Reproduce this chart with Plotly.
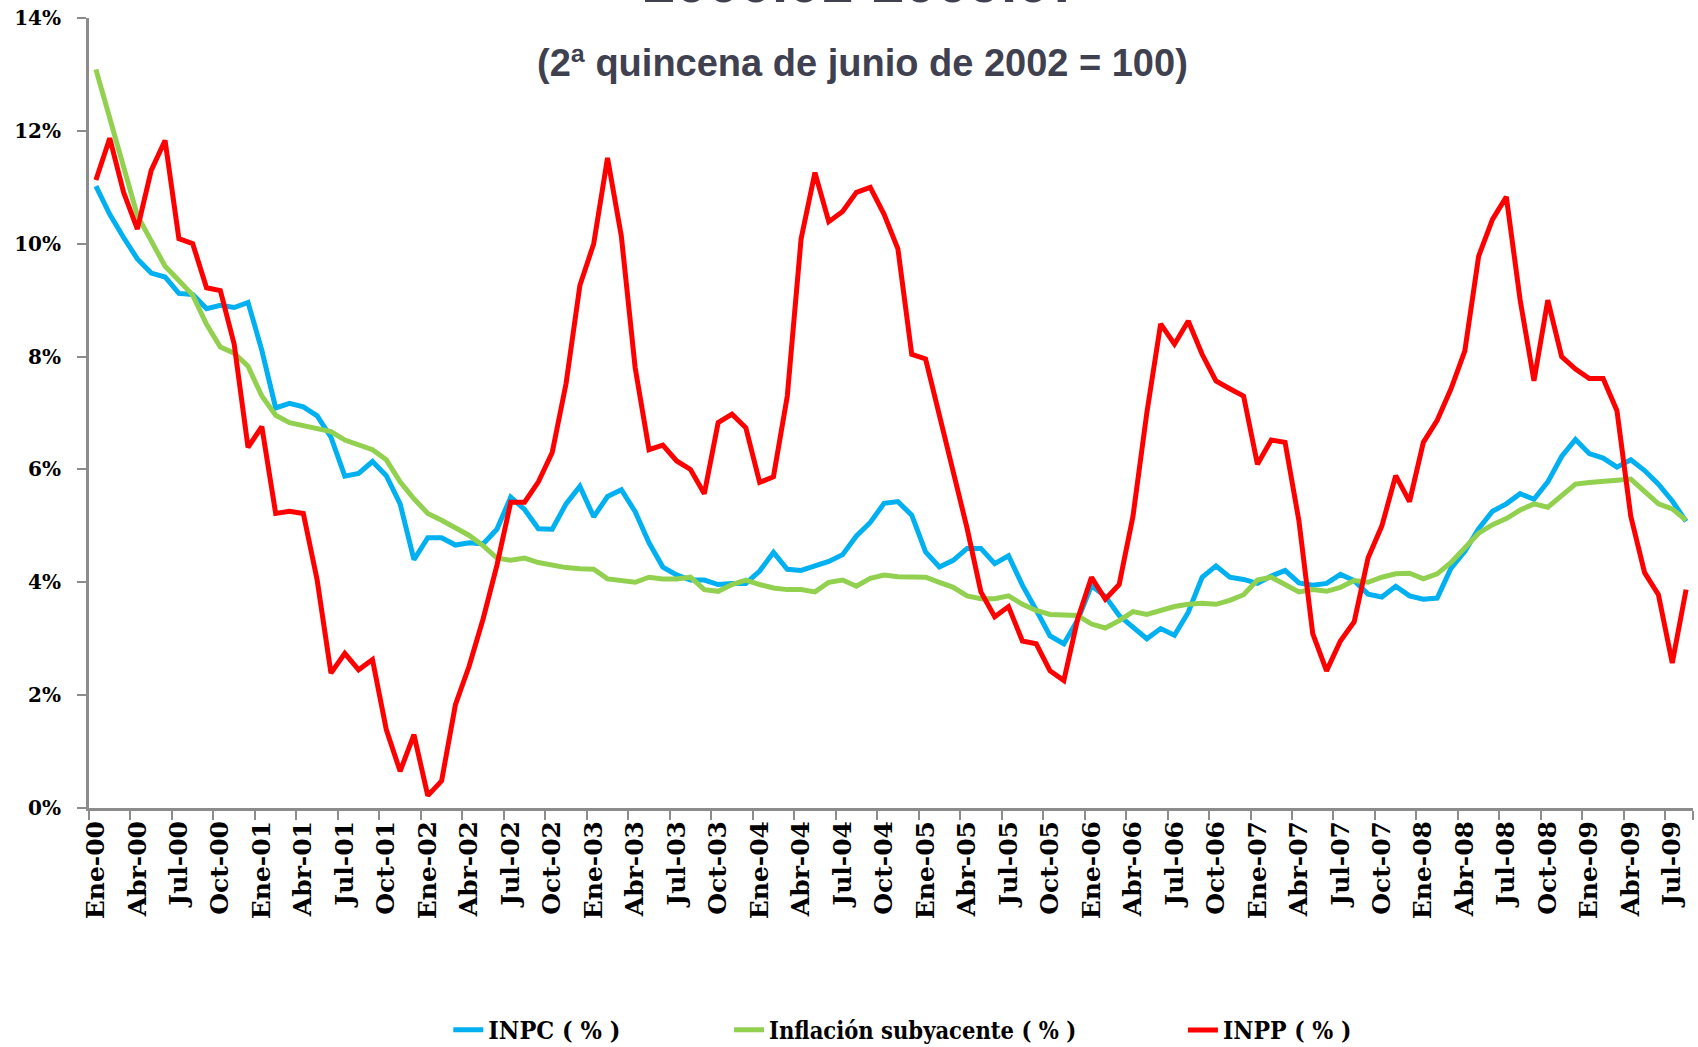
import plotly.graph_objects as go

tick_labels = ["Ene-00", "Abr-00", "Jul-00", "Oct-00", "Ene-01", "Abr-01", "Jul-01", "Oct-01",
               "Ene-02", "Abr-02", "Jul-02", "Oct-02", "Ene-03", "Abr-03", "Jul-03", "Oct-03",
               "Ene-04", "Abr-04", "Jul-04", "Oct-04", "Ene-05", "Abr-05", "Jul-05", "Oct-05",
               "Ene-06", "Abr-06", "Jul-06", "Oct-06", "Ene-07", "Abr-07", "Jul-07", "Oct-07",
               "Ene-08", "Abr-08", "Jul-08", "Oct-08", "Ene-09", "Abr-09", "Jul-09"]

inpc = [11.02, 10.52, 10.11, 9.73, 9.48, 9.41, 9.12, 9.10, 8.85, 8.91, 8.87, 8.96,
        8.11, 7.09, 7.17, 7.11, 6.95, 6.57, 5.88, 5.93, 6.14, 5.89, 5.39, 4.40,
        4.79, 4.79, 4.66, 4.70, 4.68, 4.94, 5.51, 5.29, 4.95, 4.94, 5.39, 5.70,
        5.16, 5.52, 5.64, 5.25, 4.70, 4.27, 4.13, 4.04, 4.04, 3.96, 3.98, 3.98,
        4.20, 4.53, 4.23, 4.21, 4.29, 4.37, 4.49, 4.82, 5.06, 5.40, 5.43, 5.19,
        4.54, 4.27, 4.39, 4.60, 4.60, 4.33, 4.47, 3.95, 3.51, 3.05, 2.91, 3.33,
        3.94, 3.75, 3.41, 3.20, 3.00, 3.18, 3.06, 3.47, 4.09, 4.29, 4.09, 4.05,
        3.98, 4.11, 4.21, 3.99, 3.95, 3.98, 4.14, 4.03, 3.79, 3.74, 3.93, 3.76,
        3.70, 3.72, 4.25, 4.55, 4.95, 5.26, 5.39, 5.57, 5.47, 5.78, 6.23, 6.53,
        6.28, 6.20, 6.04, 6.17, 5.98, 5.74, 5.44, 5.08]

subyacente = [13.09, 12.23, 11.37, 10.5, 10.05, 9.6, 9.35, 9.09, 8.57, 8.17, 8.06, 7.83,
              7.3, 6.96, 6.83, 6.78, 6.74, 6.67, 6.52, 6.43, 6.35, 6.17, 5.78, 5.48,
              5.22, 5.1, 4.96, 4.83, 4.65, 4.43, 4.39, 4.43, 4.35, 4.3, 4.26, 4.24,
              4.23, 4.06, 4.03, 4.0, 4.09, 4.06, 4.06, 4.09, 3.87, 3.84, 3.96, 4.04,
              3.96, 3.9, 3.87, 3.87, 3.83, 4.0, 4.04, 3.93, 4.07, 4.13, 4.1, 4.09,
              4.09, 4.0, 3.91, 3.76, 3.71, 3.71, 3.76, 3.61, 3.5, 3.43, 3.41, 3.41,
              3.26, 3.19, 3.32, 3.48, 3.43, 3.5, 3.57, 3.61, 3.63, 3.61, 3.68, 3.78,
              4.04, 4.09, 3.97, 3.83, 3.87, 3.84, 3.91, 4.03, 4.0, 4.09, 4.15, 4.16,
              4.06, 4.15, 4.35, 4.6, 4.87, 5.02, 5.13, 5.28, 5.39, 5.33, 5.54, 5.74,
              5.77, 5.78, 5.81, 5.83, 5.61, 5.39, 5.3, 5.1]

inpp = [11.13, 11.87, 10.91, 10.26, 11.3, 11.83, 10.09, 10.0, 9.22, 9.17, 8.22, 6.39,
        6.76, 5.22, 5.26, 5.22, 4.04, 2.39, 2.74, 2.45, 2.63, 1.39, 0.65, 1.3,
        0.22, 0.48, 1.83, 2.52, 3.35, 4.3, 5.42, 5.42, 5.78, 6.3, 7.52, 9.26,
        10.0, 11.52, 10.13, 7.8, 6.35, 6.43, 6.15, 6.0, 5.57, 6.83, 6.98, 6.74,
        5.77, 5.87, 7.3, 10.09, 11.26, 10.39, 10.57, 10.91, 11.0, 10.52, 9.91, 8.04,
        7.96, 6.96, 5.96, 4.96, 3.83, 3.39, 3.57, 2.96, 2.91, 2.43, 2.26, 3.35,
        4.09, 3.7, 3.96, 5.17, 7.0, 8.58, 8.22, 8.63, 8.04, 7.57, 7.43, 7.3,
        6.09, 6.52, 6.48, 5.09, 3.09, 2.43, 2.96, 3.3, 4.43, 5.0, 5.89, 5.43,
        6.48, 6.87, 7.43, 8.1, 9.78, 10.43, 10.83, 9.0, 7.57, 9.0, 8.0, 7.78,
        7.61, 7.61, 7.04, 5.17, 4.17, 3.78, 2.57, 3.87]

y_ticks = [0, 2, 4, 6, 8, 10, 12, 14]

n = len(inpc)
x = list(range(n))
step = 3
tick_pos = list(range(0, n, step))[:len(tick_labels)]
boundary_pos = [p - 0.5 for p in tick_pos] + [n - 0.5]

serif = "DejaVu Serif"
legend_family = "DejaVu Serif Condensed, DejaVu Serif"

fig = go.Figure()
fig.add_trace(go.Scatter(x=x, y=inpc, mode="lines", name="INPC ( % )",
                         line=dict(color="#00B0F0", width=5), legend="legend"))
fig.add_trace(go.Scatter(x=x, y=subyacente, mode="lines", name="Inflación subyacente ( % )",
                         line=dict(color="#92D050", width=5), legend="legend2"))
fig.add_trace(go.Scatter(x=x, y=inpp, mode="lines", name="INPP ( % )",
                         line=dict(color="#FF0000", width=5), legend="legend3"))

legend_common = dict(orientation="h", yanchor="middle", y=-0.281, xanchor="left",
                     bgcolor="rgba(0,0,0,0)", itemwidth=30)

fig.update_layout(
    width=1698, height=1047,
    margin=dict(l=89, r=5, t=18, b=239, autoexpand=False),
    paper_bgcolor="white", plot_bgcolor="white",
    showlegend=True,
    legend=dict(x=0.224, font=dict(family=legend_family, size=25, color="black", weight="bold"),
                **legend_common),
    legend2=dict(x=0.399, font=dict(family=legend_family, size=23.5, color="black", weight="bold"),
                 **legend_common),
    legend3=dict(x=0.682, font=dict(family=legend_family, size=24.5, color="black", weight="bold"),
                 **legend_common),
    xaxis=dict(
        range=[-0.5, n - 0.5], tickmode="array", tickvals=tick_pos, ticktext=tick_labels,
        tickangle=-90, ticks="", showgrid=False, zeroline=False, automargin=False,
        showline=True, linecolor="#8C8C8C", linewidth=3,
        tickfont=dict(family=serif, size=25, color="black", weight="bold"),
        minor=dict(tickmode="array", tickvals=boundary_pos, ticks="outside", ticklen=9,
                   tickwidth=2, tickcolor="#8C8C8C", showgrid=False),
    ),
    yaxis=dict(
        range=[0, 14], tickmode="array", tickvals=y_ticks,
        ticktext=[f"{v}%" for v in y_ticks], showgrid=False, zeroline=False, automargin=False,
        showline=True, linecolor="#8C8C8C", linewidth=3,
        ticks="outside", ticklen=9, tickwidth=2, tickcolor="#8C8C8C", ticklabelstandoff=12,
        tickfont=dict(family=serif, size=20, color="black", weight="bold"),
    ),
    annotations=[
        dict(text="2000.01-2009.07", xref="paper", yref="paper", x=0.482, y=1.046,
             xanchor="center", yanchor="middle", showarrow=False,
             font=dict(family="Liberation Sans, Arial", size=58, color="#404150", weight="bold")),
        dict(text="(2ª quincena de junio de 2002 = 100)", xref="paper", yref="paper",
             x=0.482, y=0.943, xanchor="center", yanchor="middle", showarrow=False,
             font=dict(family="Liberation Sans, Arial", size=38, color="#404150", weight="bold")),
    ],
)

fig.write_html("out.html", config={"displayModeBar": False},
               post_script="document.body.style.margin='0';")
